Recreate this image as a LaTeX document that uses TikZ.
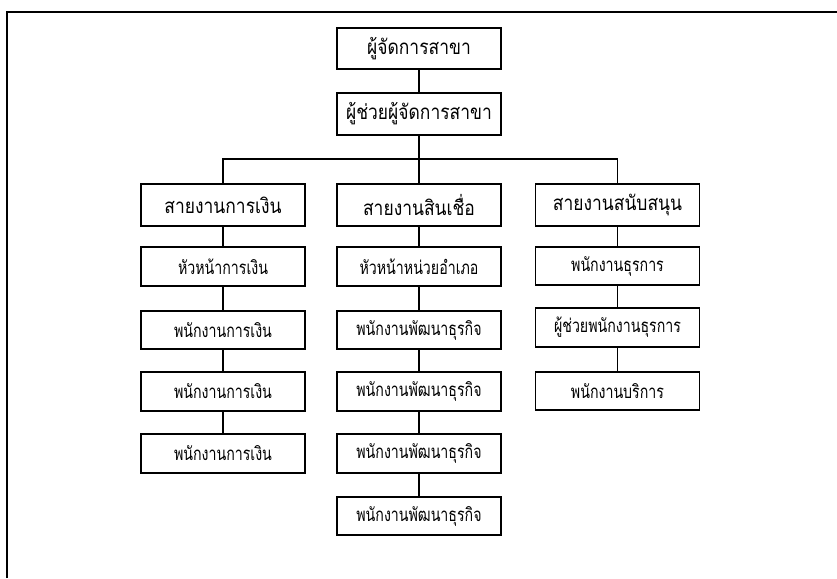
\documentclass[tikz,border=0pt]{standalone}
\usepackage{fontspec}
\newfontfamily\thaihead[Script=Thai,FakeStretch=0.85]{Loma}
\newfontfamily\thaistaff[Script=Thai,FakeStretch=0.76]{Loma}
\usepackage{tikz}

\tikzset{
  headbox/.style={draw, line width=1.3pt, minimum width=123pt, minimum height=31pt, inner sep=0.75pt, font=\thaihead\fontsize{15.4}{17}\selectfont},
  staffbox/.style={draw, line width=1.3pt, minimum width=123pt, minimum height=29pt, inner sep=0.75pt, font=\thaistaff\fontsize{14}{16}\selectfont},
  link/.style={line width=1pt}
}

\begin{document}
\begin{tikzpicture}[x=0.75pt,y=0.75pt,yscale=-1,xscale=1]
        \useasboundingbox (0,0) rectangle (837,578);
        \draw [line width=1.1pt] (7,578) -- (7,12) -- (837,12) ;

        \node [headbox] (mgr) at (419,48.5) {ผู้จัดการสาขา};
        \node [headbox] (asst) at (419,114) {ผู้ช่วยผู้จัดการสาขา};
        \coordinate (bus) at (419,159);

        \node [headbox] (fin) at (223,205) {สายงานการเงิน};
        \node [headbox] (credit) at (419,205) {สายงานสินเชื่อ};
        \node [headbox] (supp) at (617.5,205) {สายงานสนับสนุน};

        \node [staffbox] (fin1) at (223,266.5) {หัวหน้าการเงิน};
        \node [staffbox] (fin2) at (223,330) {พนักงานการเงิน};
        \node [staffbox] (fin3) at (223,391.5) {พนักงานการเงิน};
        \node [staffbox] (fin4) at (223,453.5) {พนักงานการเงิน};

        \node [staffbox] (credit1) at (419,266.5) {หัวหน้าหน่วยอำเภอ};
        \node [staffbox] (credit2) at (419,330) {พนักงานพัฒนาธุรกิจ};
        \node [staffbox] (credit3) at (419,391.5) {พนักงานพัฒนาธุรกิจ};
        \node [staffbox] (credit4) at (419,453.5) {พนักงานพัฒนาธุรกิจ};
        \node [staffbox] (credit5) at (419,516) {พนักงานพัฒนาธุรกิจ};

        \node [staffbox] (supp1) at (617.5,266) {พนักงานธุรการ};
        \node [staffbox] (supp2) at (617.5,327.5) {ผู้ช่วยพนักงานธุรการ};
        \node [staffbox] (supp3) at (617.5,391) {พนักงานบริการ};

        \draw [link] (mgr) -- (asst) ;
        \draw [link] (asst) -- (credit) ;
        \draw [link] (fin.north) |- (bus) -| (supp.north) ;

        \draw [link] (fin) -- (fin1) ;
        \draw [link] (fin1) -- (fin2) ;
        \draw [link] (fin2) -- (fin3) ;
        \draw [link] (fin3) -- (fin4) ;

        \draw [link] (credit) -- (credit1) ;
        \draw [link] (credit1) -- (credit2) ;
        \draw [link] (credit2) -- (credit3) ;
        \draw [link] (credit3) -- (credit4) ;
        \draw [link] (credit4) -- (credit5) ;

        \draw [link] (supp) -- (supp1) ;
        \draw [link] (supp1) -- (supp2) ;
        \draw [link] (supp2) -- (supp3) ;
    \end{tikzpicture}
\end{document}
